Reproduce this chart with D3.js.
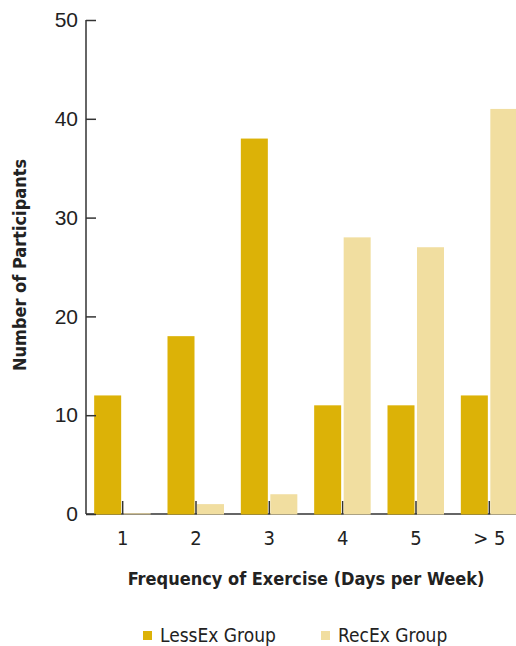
<!DOCTYPE html>
<html>
<head>
<meta charset="utf-8">
<script src="https://cdn.jsdelivr.net/npm/d3@7"></script>
<style>
  body { margin: 0; background: #fff; }
  svg { display: block; font-family: "Liberation Sans Narrow", "DejaVu Sans Condensed", "Liberation Sans", sans-serif; }
</style>
</head>
<body>
<script>
'use strict';

var categories = ['1', '2', '3', '4', '5', '> 5'];
var lessEx = [12, 18, 38, 11, 11, 12];
var recEx = [0, 1, 2, 28, 27, 41];
var seriesNames = ['LessEx Group', 'RecEx Group'];
var yTicks = [0, 10, 20, 30, 40, 50];

var width = 516, height = 646;
var colors = ['#dcb207', '#f1dea0'];

var svg = d3.select('body').append('svg')
    .attr('width', width)
    .attr('height', height);

var x = d3.scaleBand().domain(categories).range([86, 526]);
var y = d3.scaleLinear().domain([0, 50]).range([514, 20]);

// x axis line (bars sit on top of it)
svg.append('line')
    .attr('x1', 86).attr('x2', 526)
    .attr('y1', y(0)).attr('y2', y(0))
    .attr('stroke', '#333').attr('stroke-width', 1.5);

// tick marks between bar pairs
svg.selectAll('.xtick')
    .data(categories)
    .enter().append('line')
    .attr('class', 'xtick')
    .attr('x1', function (d) { return x(d) + x.bandwidth() / 2; })
    .attr('x2', function (d) { return x(d) + x.bandwidth() / 2; })
    .attr('y1', y(0)).attr('y2', y(0) - 13)
    .attr('stroke', '#333').attr('stroke-width', 1.5);

var rows = categories.map(function (c, i) { return {cat: c, vals: [lessEx[i], recEx[i]]}; });

var barW = 27;
var groups = svg.selectAll('.grp')
    .data(rows)
    .enter().append('g')
    .attr('class', 'grp');

groups.selectAll('rect')
    .data(function (d) { return d.vals.map(function (v, k) { return {cat: d.cat, v: v, k: k}; }); })
    .enter().append('rect')
    .attr('x', function (d) {
        var c = x(d.cat) + x.bandwidth() / 2;
        return d.k === 0 ? c - 1.5 - barW : c + 1;
    })
    .attr('width', barW)
    .attr('y', function (d) { return d.v === 0 ? y(0) - 1 : y(d.v); })
    .attr('height', function (d) { return d.v === 0 ? 1.5 : y(0) - y(d.v) + 0.5; })
    .attr('fill', function (d) { return d.v === 0 ? '#cbbd95' : colors[d.k]; });

// x tick labels
svg.selectAll('.xlab')
    .data(categories)
    .enter().append('text')
    .attr('x', function (d) { return x(d) + x.bandwidth() / 2; })
    .attr('y', 545)
    .attr('text-anchor', 'middle')
    .attr('font-size', 20)
    .attr('fill', '#222')
    .text(function (d) { return d; });

// y axis
var yAxis = d3.axisRight(y).tickValues(yTicks).tickSize(10);
var ya = svg.append('g').attr('transform', 'translate(86,0)').call(yAxis);
ya.select('.domain').attr('stroke', '#333').attr('stroke-width', 1.5)
    .attr('d', 'M0,' + y(50) + 'V' + y(0));
ya.selectAll('.tick line').attr('stroke', '#333').attr('stroke-width', 1.5);
ya.selectAll('.tick text')
    .attr('text-anchor', 'end')
    .attr('x', -8)
    .attr('font-size', 21)
    .attr('font-family', null)
    .attr('fill', '#222');

// axis titles
svg.append('text')
    .attr('x', 306).attr('y', 585)
    .attr('text-anchor', 'middle')
    .attr('font-size', 18).attr('font-weight', 'bold')
    .attr('fill', '#222')
    .text('Frequency of Exercise (Days per Week)');

svg.append('text')
    .attr('transform', 'translate(26,265) rotate(-90)')
    .attr('text-anchor', 'middle')
    .attr('font-size', 18).attr('font-weight', 'bold')
    .attr('fill', '#222')
    .text('Number of Participants');

// legend
var legX = [143, 321];
var leg = svg.selectAll('.leg')
    .data(seriesNames)
    .enter().append('g')
    .attr('transform', function (d, i) { return 'translate(' + legX[i] + ',0)'; });
leg.append('rect')
    .attr('x', 0).attr('y', 631)
    .attr('width', 9).attr('height', 9)
    .attr('fill', function (d, i) { return colors[i]; });
leg.append('text')
    .attr('x', 17).attr('y', 642)
    .attr('font-size', 19)
    .attr('fill', '#222')
    .text(function (d) { return d; });
</script>
</body>
</html>
